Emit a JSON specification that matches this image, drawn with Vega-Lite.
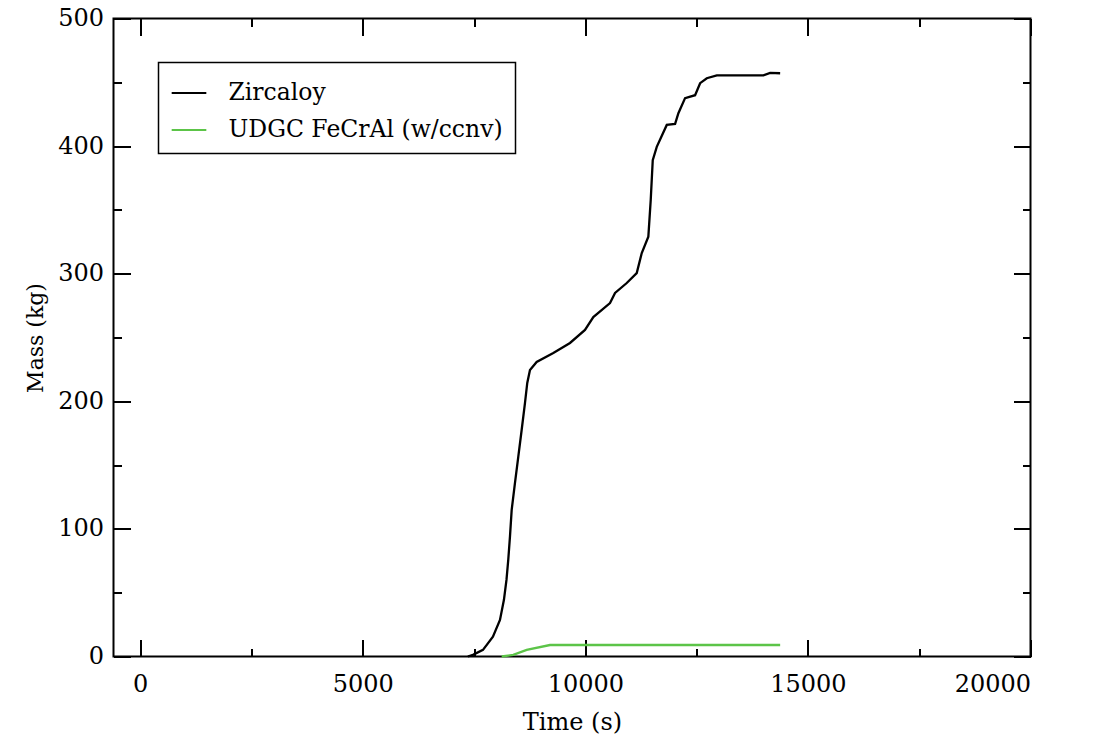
{
  "$schema": "https://vega.github.io/schema/vega-lite/v6.json",
  "width": 917,
  "height": 638,
  "autosize": {"type": "none"},
  "padding": {"left": 113.5, "top": 18.5, "right": 65.5, "bottom": 81.5},
  "background": "white",
  "config": {
    "font": "DejaVu Serif",
    "view": {"stroke": "black", "strokeWidth": 2},
    "axis": {
      "domain": false,
      "grid": false,
      "tickColor": "black",
      "tickWidth": 2,
      "labelColor": "black",
      "labelFontSize": 24,
      "titleColor": "black",
      "titleFontSize": 22,
      "titleFontWeight": "normal",
      "format": "d"
    },
    "legend": {
      "labelFont": "DejaVu Serif",
      "labelFontSize": 23.5,
      "labelColor": "black",
      "labelLimit": 400
    }
  },
  "data": {
    "values": [
      {"series": "Zircaloy", "t": 7360, "mass": 0},
      {"series": "Zircaloy", "t": 7475, "mass": 1.3},
      {"series": "Zircaloy", "t": 7700, "mass": 5.2},
      {"series": "Zircaloy", "t": 7924, "mass": 15.5},
      {"series": "Zircaloy", "t": 8082, "mass": 28.7},
      {"series": "Zircaloy", "t": 8171, "mass": 44.4},
      {"series": "Zircaloy", "t": 8228, "mass": 60},
      {"series": "Zircaloy", "t": 8268, "mass": 75.7},
      {"series": "Zircaloy", "t": 8306, "mass": 93.7},
      {"series": "Zircaloy", "t": 8345, "mass": 114.9},
      {"series": "Zircaloy", "t": 8419, "mass": 136},
      {"series": "Zircaloy", "t": 8493, "mass": 156.4},
      {"series": "Zircaloy", "t": 8569, "mass": 177.5},
      {"series": "Zircaloy", "t": 8644, "mass": 198.7},
      {"series": "Zircaloy", "t": 8695, "mass": 214.4},
      {"series": "Zircaloy", "t": 8756, "mass": 224.5},
      {"series": "Zircaloy", "t": 8906, "mass": 230.8},
      {"series": "Zircaloy", "t": 9280, "mass": 237.8},
      {"series": "Zircaloy", "t": 9655, "mass": 245.7},
      {"series": "Zircaloy", "t": 9992, "mass": 255.9},
      {"series": "Zircaloy", "t": 10179, "mass": 266},
      {"series": "Zircaloy", "t": 10554, "mass": 277},
      {"series": "Zircaloy", "t": 10667, "mass": 284.9},
      {"series": "Zircaloy", "t": 10930, "mass": 292.7},
      {"series": "Zircaloy", "t": 11154, "mass": 300.5},
      {"series": "Zircaloy", "t": 11267, "mass": 316.2},
      {"series": "Zircaloy", "t": 11415, "mass": 329},
      {"series": "Zircaloy", "t": 11469, "mass": 358},
      {"series": "Zircaloy", "t": 11514, "mass": 389},
      {"series": "Zircaloy", "t": 11604, "mass": 399.4},
      {"series": "Zircaloy", "t": 11829, "mass": 416.6},
      {"series": "Zircaloy", "t": 12016, "mass": 417.4},
      {"series": "Zircaloy", "t": 12090, "mass": 425.8},
      {"series": "Zircaloy", "t": 12240, "mass": 437.6},
      {"series": "Zircaloy", "t": 12465, "mass": 439.9},
      {"series": "Zircaloy", "t": 12578, "mass": 449.3},
      {"series": "Zircaloy", "t": 12728, "mass": 453.2},
      {"series": "Zircaloy", "t": 12953, "mass": 455.5},
      {"series": "Zircaloy", "t": 14000, "mass": 455.5},
      {"series": "Zircaloy", "t": 14151, "mass": 457.4},
      {"series": "Zircaloy", "t": 14376, "mass": 457.1},
      {"series": "UDGC FeCrAl (w/ccnv)", "t": 8120, "mass": 0},
      {"series": "UDGC FeCrAl (w/ccnv)", "t": 8380, "mass": 1.3},
      {"series": "UDGC FeCrAl (w/ccnv)", "t": 8682, "mass": 5.2},
      {"series": "UDGC FeCrAl (w/ccnv)", "t": 9206, "mass": 9},
      {"series": "UDGC FeCrAl (w/ccnv)", "t": 14376, "mass": 9}
    ]
  },
  "layer": [
    {
      "mark": {"type": "line", "strokeWidth": 2.3},
      "encoding": {
        "x": {
          "field": "t",
          "type": "quantitative",
          "scale": {"domain": [-600, 20000], "nice": false, "zero": false},
          "axis": {
            "orient": "bottom",
            "title": "Time (s)",
            "titleFontSize": 24,
            "titlePadding": 14,
            "values": [0, 2500, 5000, 7500, 10000, 12500, 15000, 17500, 20000],
            "labelExpr": "datum.value % 5000 === 0 ? datum.label : ''",
            "tickSize": {"condition": {"test": "datum.value % 5000 === 0", "value": -17}, "value": -8},
            "labelPadding": 33
          }
        },
        "y": {
          "field": "mass",
          "type": "quantitative",
          "scale": {"domain": [0, 500], "nice": false},
          "axis": {
            "orient": "left",
            "title": "Mass (kg)",
            "titlePadding": 10,
            "values": [0, 50, 100, 150, 200, 250, 300, 350, 400, 450, 500],
            "labelExpr": "datum.value % 100 === 0 ? datum.label : ''",
            "tickSize": {"condition": {"test": "datum.value % 100 === 0", "value": -17}, "value": -8},
            "labelPadding": 27
          }
        },
        "color": {
          "field": "series",
          "type": "nominal",
          "scale": {
            "domain": ["Zircaloy", "UDGC FeCrAl (w/ccnv)"],
            "range": ["#000000", "#5cc448"]
          },
          "legend": {
            "title": null,
            "orient": "none",
            "legendX": 45,
            "legendY": 44,
            "direction": "vertical",
            "strokeColor": "black",
            "fillColor": "white",
            "padding": 12,
            "symbolType": "stroke",
            "symbolSize": 1200,
            "symbolStrokeWidth": 2.2,
            "labelOffset": 21,
            "rowPadding": 7,
            "encode": {"legend": {"update": {"strokeWidth": {"value": 1.5}}}}
          }
        }
      }
    },
    {
      "mark": {"type": "line", "strokeOpacity": 0},
      "encoding": {
        "x": {
          "field": "t",
          "type": "quantitative",
          "scale": {"domain": [-600, 20000], "nice": false, "zero": false},
          "axis": {
            "orient": "top",
            "title": null,
            "labels": false,
            "values": [0, 2500, 5000, 7500, 10000, 12500, 15000, 17500, 20000],
            "tickSize": {"condition": {"test": "datum.value % 5000 === 0", "value": -17}, "value": -8}
          }
        },
        "y": {
          "field": "mass",
          "type": "quantitative",
          "scale": {"domain": [0, 500], "nice": false},
          "axis": {
            "orient": "right",
            "title": null,
            "labels": false,
            "values": [0, 50, 100, 150, 200, 250, 300, 350, 400, 450, 500],
            "tickSize": {"condition": {"test": "datum.value % 100 === 0", "value": -17}, "value": -8}
          }
        },
        "detail": {"field": "series", "type": "nominal"}
      }
    }
  ],
  "resolve": {"axis": {"x": "independent", "y": "independent"}}
}
